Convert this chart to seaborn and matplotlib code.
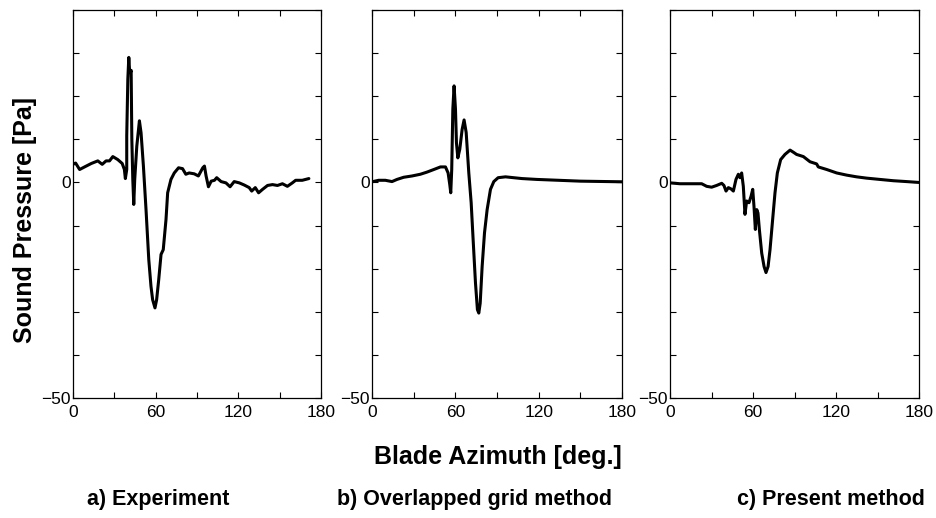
import seaborn as sns
import pandas as pd
import matplotlib.pyplot as plt

# a) Experiment
exp_deg = [0, 1.9, 4.8, 8.4, 13.3, 18, 21.2, 24, 26.5, 28.9, 32.5, 35.7, 37.3, 38, 39, 39,
           39.8, 40.5, 41, 41.7, 42.2, 42.7, 43.4, 44.1, 44.8, 46.3, 48.2, 49.4, 51.1, 53,
           55, 56.6, 57.8, 59.5, 60.7, 62.2, 63.9, 65.5, 67.5, 68.7, 71.1, 73.5, 76.6, 79.5,
           81.9, 84.3, 88, 91, 94.2, 95.4, 96.6, 98.3, 100.3, 102.7, 104.3, 107.5, 111, 114,
           117, 120.7, 124.3, 127.9, 129.7, 132.3, 134.7, 137.6, 141.2, 144.8, 148.4, 152,
           155.6, 159.2, 161.6, 166.4, 171.2]
exp_pa = [4.2, 4.5, 3.0, 3.6, 4.4, 5.0, 4.2, 5.0, 5.0, 6.0, 5.3, 4.4, 3.0, 0.9, 3.0, 10.8,
          24, 29, 26.3, 25.5, 26, 10, 0.7, -5.1, 0.7, 8.4, 14.3, 11.5, 3.8, -6.3,
          -17.9, -24.1, -27.2, -29.1, -27.2, -22.6, -16.7, -15.6, -8.6, -2.4, 0.7, 2.2, 3.4, 3.2,
          1.9, 2.2, 2.0, 1.5, 3.4, 3.8, 1.5, -1.0, 0.3, 0.5, 1.1, 0.2, -0.1, -1.0,
          0.2, -0.1, -0.6, -1.2, -2.0, -1.2, -2.4, -1.6, -0.7, -0.5, -0.7, -0.3,
          -0.9, -0.1, 0.5, 0.5, 0.9]

# b) Overlapped grid method
ovl_deg = [0, 4.8, 9.6, 14.4, 18, 22.8, 28.8, 34.8, 39.6, 44.5, 49.3, 52.9, 54.8, 56, 56.7,
           57.4, 58.2, 59.1, 60.1, 60.8, 61.8, 63.2, 64.9, 66.3, 67.8, 69.7, 71.4, 72.8,
           74.5, 75.9, 76.9, 77.9, 79.3, 81, 82.9, 85.3, 87.7, 90.8, 96.1, 102, 108, 118.7,
           150, 180]
ovl_pa = [0.15, 0.5, 0.5, 0.2, 0.7, 1.2, 1.5, 1.9, 2.4, 3.0, 3.6, 3.6, 2.2, -0.5, -2.4,
          3.0, 17, 22.4, 17, 9.2, 5.7, 7.7, 12.3, 14.5, 11.6, 2.2, -4.7, -13.2,
          -23.3, -29.5, -30.3, -28, -19.5, -11.7, -6.3, -1.6, 0.2, 1.1, 1.3, 1.1, 0.9, 0.7,
          0.3, 0.15]

# c) Present method
pre_deg = [0, 7.2, 14.5, 22.9, 26.5, 30.1, 33.7, 37.4, 39, 40.5, 42.2, 44.1, 45.8, 47.7,
           49.4, 50.6, 51.8, 53, 54.2, 55.4, 57.1, 58.6, 59.8, 60.7, 61.7, 62.7, 63.6, 64.6,
           66.3, 68, 69.4, 70.9, 72.3, 74.2, 75.9, 77.6, 80, 83.1, 86.8, 89.7, 91.5, 96.4,
           101.2, 106, 107.2, 113.3, 120.5, 127.7, 134.9, 142.1, 151.7, 161.4, 171, 180]
pre_pa = [-0.1, -0.3, -0.3, -0.3, -0.9, -1.1, -0.7, -0.2, -0.7, -2.0, -1.2, -1.5, -2.0, 0.7,
          1.9, 1.1, 2.2, -0.9, -7.4, -4.3, -4.7, -3.2, -1.6, -5.5, -10.9, -6.3, -7.1, -10.9,
          -16.4, -19.5, -20.9, -19.5, -15.6, -8.6, -2.4, 2.2, 5.3, 6.5, 7.5, 6.9, 6.5, 6.0,
          4.8, 4.3, 3.6, 3.0, 2.2, 1.7, 1.3, 1.0, 0.7, 0.4, 0.2, 0.0]

captions = ["a) Experiment", "b) Overlapped grid method", "c) Present method"]
series = [(exp_deg, exp_pa), (ovl_deg, ovl_pa), (pre_deg, pre_pa)]

sns.set_theme(style="ticks")
plt.rcParams["font.family"] = ["Liberation Sans", "DejaVu Sans"]
plt.rcParams["text.color"] = "black"

fig = plt.figure(figsize=(9.37, 5.18), dpi=100)
lefts = [73, 372, 670]
widths = [248, 250, 249]

for i, (deg, pa) in enumerate(series):
    ax = fig.add_axes([lefts[i] / 937, 120 / 518, widths[i] / 937, 388 / 518])
    df = pd.DataFrame({"deg": deg, "pa": pa})
    sns.lineplot(data=df, x="deg", y="pa", ax=ax, color="black", linewidth=2.2,
                 sort=False, estimator=None)
    ax.set_xlim(0, 180)
    ax.set_ylim(-50, 40)
    ax.set_xticks(range(0, 181, 30))
    ax.set_xticklabels(["0", "", "60", "", "120", "", "180"])
    ax.set_yticks(range(-50, 41, 10))
    ax.set_yticklabels(["\u221250", "", "", "", "", "0", "", "", "", ""])
    ax.tick_params(direction="in", top=True, right=True, length=4.5, width=0.8,
                   labelsize=12.5, colors="black", labelcolor="black")
    ax.tick_params(axis="x", pad=5)
    ax.tick_params(axis="y", pad=1.5)
    ax.set_xlabel("")
    ax.set_ylabel("")
    for sp in ax.spines.values():
        sp.set_linewidth(0.9)
        sp.set_color("black")
    fig.text([158, 475, 831][i] / 937, 1 - 500 / 518, captions[i], ha="center",
             va="center", fontsize=15.5, fontweight="bold", color="black")

fig.text(25 / 937, 1 - 220 / 518, "Sound Pressure [Pa]", rotation=90, ha="center",
         va="center", fontsize=18, fontweight="bold", color="black")
fig.text(498 / 937, 1 - 457 / 518, "Blade Azimuth [deg.]", ha="center", va="center",
         fontsize=18, fontweight="bold", color="black")

fig.savefig("out.png", dpi=100)
